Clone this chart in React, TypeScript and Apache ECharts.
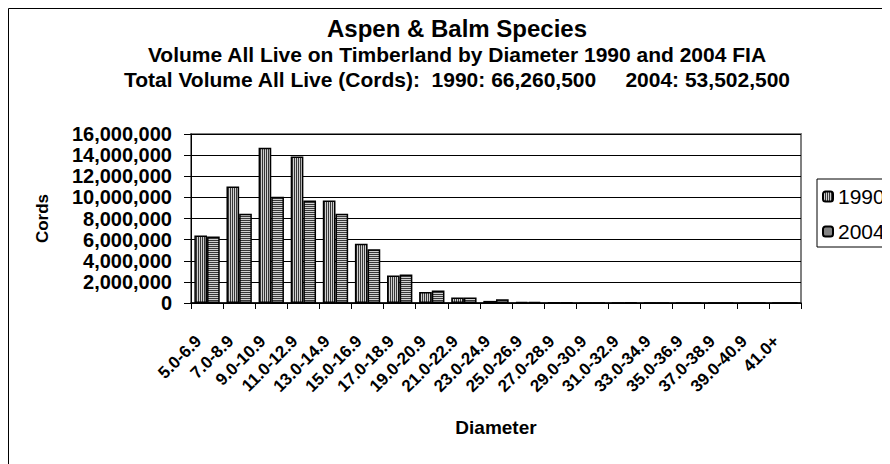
import React, { useEffect, useRef } from 'react';
import * as echarts from 'echarts';

const categories = ['5.0-6.9', '7.0-8.9', '9.0-10.9', '11.0-12.9', '13.0-14.9', '15.0-16.9', '17.0-18.9', '19.0-20.9', '21.0-22.9', '23.0-24.9', '25.0-26.9', '27.0-28.9', '29.0-30.9', '31.0-32.9', '33.0-34.9', '35.0-36.9', '37.0-38.9', '39.0-40.9', '41.0+'];
const values1990 = [6390000, 11030000, 14700000, 13870000, 9700000, 5600000, 2600000, 1030000, 510000, 200000, 100000, 50000, 0, 0, 0, 0, 0, 0, 0];
const values2004 = [6300000, 8450000, 10050000, 9700000, 8450000, 5100000, 2700000, 1190000, 530000, 350000, 90000, 40000, 0, 60000, 0, 0, 0, 0, 0];
const seriesNames = ['1990', '2004'];
const titleLines = [
  'Aspen & Balm Species',
  'Volume All Live on Timberland by Diameter 1990 and 2004 FIA',
  'Total Volume All Live (Cords):  1990: 66,260,500     2004: 53,502,500',
];
const yMin = 0;
const yMax = 16000000;
const yInterval = 2000000;
const xAxisName = 'Diameter';
const yAxisName = 'Cords';

const FONT = '"Liberation Sans", Arial, Helvetica, sans-serif';

function makePattern(vertical: boolean) {
  const c = document.createElement('canvas');
  c.width = 2;
  c.height = 2;
  const ctx = c.getContext('2d');
  if (ctx) {
    ctx.fillStyle = '#d0d0d0';
    ctx.fillRect(0, 0, 2, 2);
    ctx.fillStyle = '#383838';
    if (vertical) ctx.fillRect(0, 0, 1, 2);
    else ctx.fillRect(0, 0, 2, 1);
  }
  return { image: c.toDataURL(), repeat: 'repeat', imageWidth: 2, imageHeight: 2 };
}

export default function App() {
  const ref = useRef<HTMLDivElement>(null);
  useEffect(() => {
    document.documentElement.style.overflow = 'hidden';
    document.body.style.overflow = 'hidden';
    if (!ref.current) return;
    const chart = echarts.init(ref.current, undefined, { renderer: 'svg' });
    const p1 = makePattern(true);
    const p2 = makePattern(false);
    const titleX = 449;
    chart.setOption({
      animation: false,
      backgroundColor: '#ffffff',
      textStyle: { fontFamily: FONT, color: '#000' },
      graphic: [
        {
          type: 'rect',
          shape: { x: 0.5, y: 0.5, width: 2000, height: 2000 },
          style: { fill: 'none', stroke: '#000', lineWidth: 1 },
          silent: true,
        },
        {
          type: 'text', x: titleX, y: 20,
          style: { text: titleLines[0], fontSize: 24, fontWeight: 'bold', fontFamily: FONT, fill: '#000', align: 'center', verticalAlign: 'middle' },
        },
        {
          type: 'text', x: titleX, y: 46,
          style: { text: titleLines[1], fontSize: 21, fontWeight: 'bold', fontFamily: FONT, fill: '#000', align: 'center', verticalAlign: 'middle' },
        },
        {
          type: 'text', x: titleX, y: 71,
          style: { text: titleLines[2], fontSize: 21, fontWeight: 'bold', fontFamily: FONT, fill: '#000', align: 'center', verticalAlign: 'middle' },
        },
      ],
      legend: {
        data: seriesNames,
        orient: 'vertical',
        left: 809,
        top: 171,
        itemWidth: 10,
        itemHeight: 10,
        itemGap: 14,
        padding: [7, 14, 5, 5],
        borderColor: '#000',
        borderWidth: 1,
        backgroundColor: '#fff',
        textStyle: { fontSize: 21, fontFamily: FONT, color: '#000' },
      },
      grid: {
        left: 183,
        top: 126,
        width: 610,
        height: 169,
        show: true,
        borderColor: '#808080',
        borderWidth: 2,
        backgroundColor: 'transparent',
      },
      xAxis: {
        type: 'category',
        data: categories,
        name: xAxisName,
        nameLocation: 'middle',
        nameGap: 115,
        nameTextStyle: { fontSize: 19, fontWeight: 'bold', fontFamily: FONT, color: '#000' },
        axisLine: { lineStyle: { color: '#000', width: 1.5 } },
        axisTick: { show: true, length: 6, lineStyle: { color: '#000' } },
        axisLabel: { rotate: 45, interval: 0, fontSize: 17, fontWeight: 'bold', fontFamily: FONT, color: '#000', margin: 27, padding: [0, 12, 0, 0] },
        splitLine: { show: false },
      },
      yAxis: {
        type: 'value',
        min: yMin,
        max: yMax,
        interval: yInterval,
        name: yAxisName,
        nameLocation: 'middle',
        nameGap: 140,
        nameRotate: 90,
        nameTextStyle: { fontSize: 17, fontWeight: 'bold', fontFamily: FONT, color: '#000' },
        axisLine: { show: true, lineStyle: { color: '#000', width: 1 } },
        axisTick: { show: true, length: 7, lineStyle: { color: '#000' } },
        axisLabel: {
          fontSize: 20, fontWeight: 'bold', fontFamily: FONT, color: '#000', margin: 19,
          formatter: (v: number) => v.toLocaleString('en-US'),
        },
        splitLine: { show: true, lineStyle: { color: '#000', width: 1 } },
      },
      series: [
        {
          name: seriesNames[0],
          type: 'bar',
          data: values1990,
          barGap: '0%',
          barCategoryGap: '21%',
          itemStyle: { color: p1, borderColor: '#000', borderWidth: 1.5 },
        },
        {
          name: seriesNames[1],
          type: 'bar',
          data: values2004,
          barGap: '0%',
          barCategoryGap: '21%',
          itemStyle: { color: p2, borderColor: '#000', borderWidth: 1.5 },
        },
      ],
    });
    return () => {
      chart.dispose();
    };
  }, []);
  return (
    <div style={{ width: 882, height: 456, overflow: 'hidden', position: 'relative' }}>
      <div ref={ref} style={{ width: 1000, height: 456 }} />
    </div>
  );
}
